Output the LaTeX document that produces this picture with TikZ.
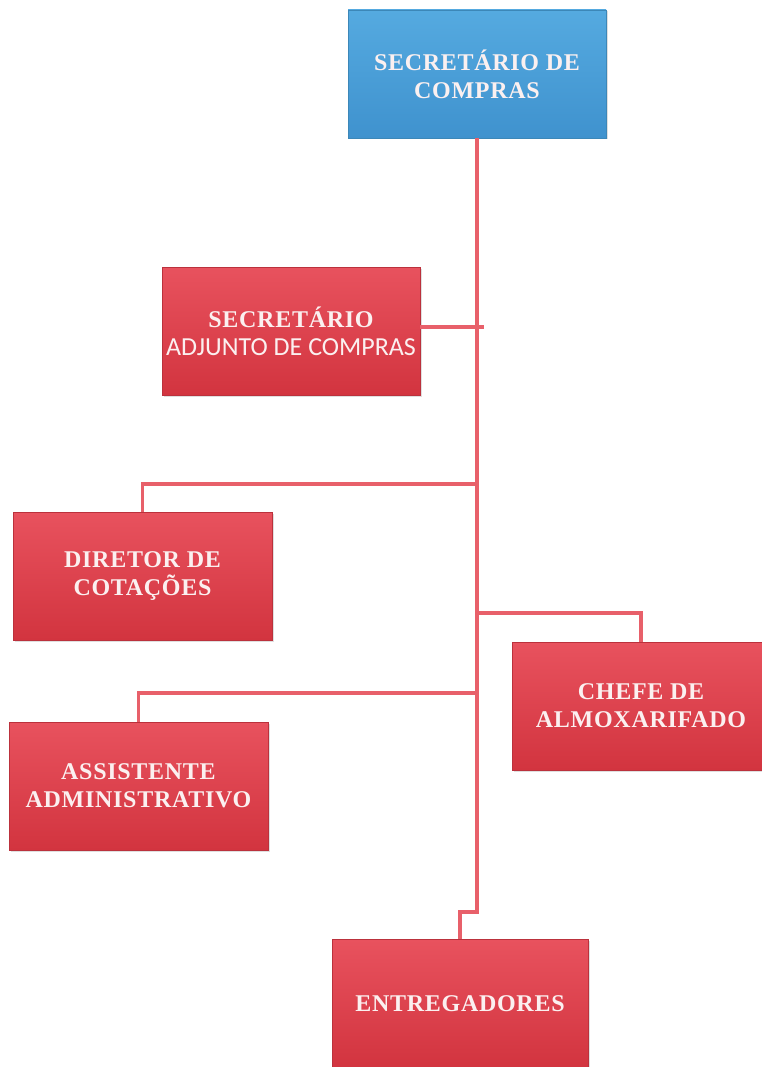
\documentclass[tikz,border=0pt]{standalone}
\usepackage{fontspec}
\setmainfont{Liberation Serif}
\newfontfamily\adjfont{Carlito}
\usetikzlibrary{shadows}
\definecolor{linered}{HTML}{E8606A}
\definecolor{boxred}{HTML}{DC3A46}
\definecolor{boxredtop}{HTML}{E8525E}
\definecolor{boxredbot}{HTML}{D2343F}
\definecolor{boxblue}{HTML}{479FD8}
\definecolor{boxbluetop}{HTML}{55AAE0}
\definecolor{boxbluebot}{HTML}{3F92CE}
\definecolor{txt}{HTML}{FBF0F0}
\begin{document}
\begin{tikzpicture}[x=1pt,y=-1pt,
  orgbox/.style={rectangle, minimum width=258pt, minimum height=128pt, inner sep=2pt,
    align=center, text=txt, font=\fontsize{24}{28}\selectfont\bfseries\addfontfeature{LetterSpace=3},
    drop shadow={opacity=0.25, shadow xshift=1.5pt, shadow yshift=-1.5pt}},
  redbox/.style={orgbox, top color=boxredtop, bottom color=boxredbot, draw=boxred!85!black, line width=0.4pt},
  bluebox/.style={orgbox, top color=boxbluetop, bottom color=boxbluebot, draw=boxblue!85!black, line width=0.4pt},
  conn/.style={draw=linered, line width=3.2pt}]
\useasboundingbox (0,0) rectangle (762,1067);

\node[bluebox] (top) at (477,74) {SECRETÁRIO DE\\COMPRAS};
\node[redbox] (adj) at (291,331) {SECRETÁRIO\\{\adjfont\mdseries\fontsize{26}{28}\selectfont ADJUNTO DE COMPRAS}};
\node[redbox, minimum width=259pt] (dir) at (142.5,576) {DIRETOR DE\\COTAÇÕES};
\node[redbox] (chefe) at (641,706) {CHEFE DE\\ALMOXARIFADO};
\node[redbox, minimum width=259pt] (assist) at (138.5,786) {ASSISTENTE\\ADMINISTRATIVO};
\node[redbox, minimum width=256pt] (entreg) at (460,1003.5) {ENTREGADORES};

\coordinate (jadj) at (484,327);
\coordinate (jdir) at (478,484);
\coordinate (jchefe) at (478,613);
\coordinate (jassist) at (478,693);
\coordinate (jent) at (478,912);

\draw[conn] (top.south) -- (top.south |- jent) -| (entreg.north);
\draw[conn] (adj.east |- jadj) -- (jadj);
\draw[conn] (dir.north) |- (jdir);
\draw[conn] (jchefe) -| (chefe.north);
\draw[conn] (assist.north) |- (jassist);
\end{tikzpicture}
\end{document}
